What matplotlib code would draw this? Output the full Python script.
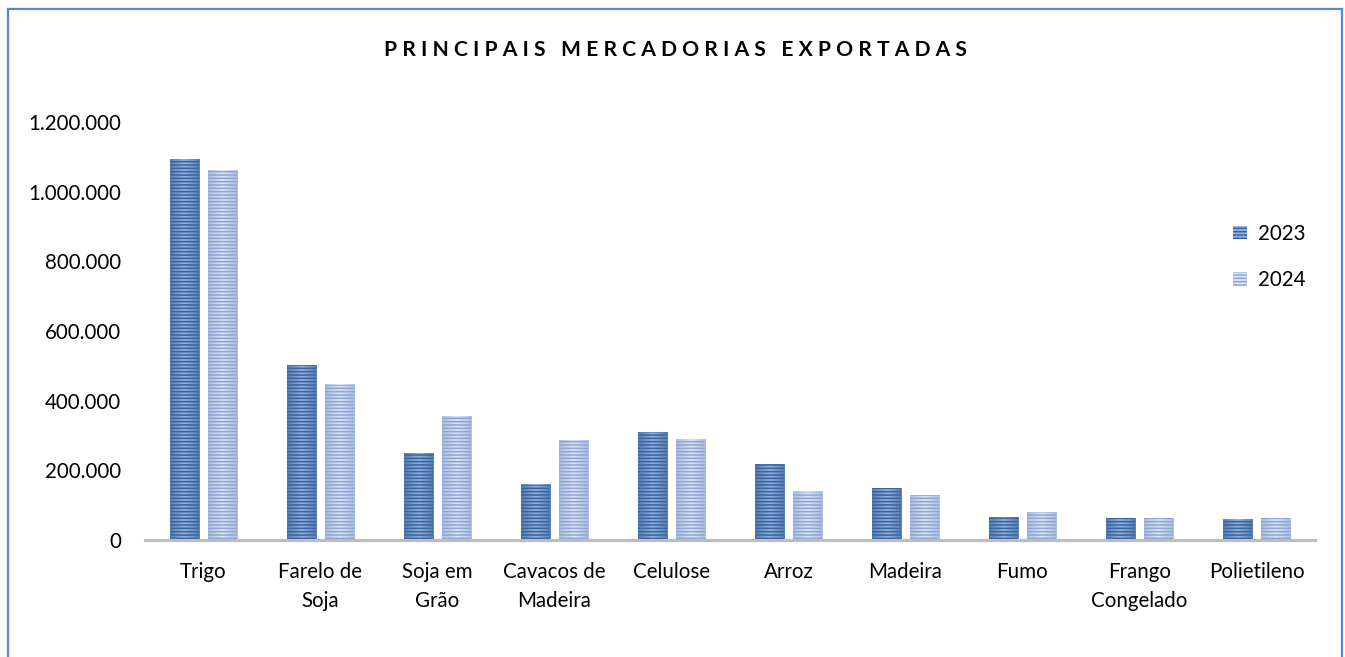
import matplotlib
matplotlib.use("Agg")
import matplotlib.pyplot as plt
import numpy as np
from matplotlib.patches import Patch
from matplotlib.ticker import FuncFormatter, MultipleLocator
from matplotlib.colors import LinearSegmentedColormap

categories = ["Trigo", "Farelo de\nSoja", "Soja em\nGrão", "Cavacos de\nMadeira", "Celulose",
              "Arroz", "Madeira", "Fumo", "Frango\nCongelado", "Polietileno"]
values_2023 = [1093000, 502000, 247000, 158000, 309000, 217000, 148000, 65000, 62000, 58000]
values_2024 = [1060000, 445000, 354000, 287000, 289000, 139000, 128000, 80000, 62000, 62000]
series_labels = ["2023", "2024"]
title = "PRINCIPAIS MERCADORIAS EXPORTADAS"

plt.rcParams['font.family'] = ['Lato', 'DejaVu Sans']
plt.rcParams['hatch.linewidth'] = 1.1

W, H = 1345, 657
fig = plt.figure(figsize=(W / 100, H / 100), dpi=100)
ax = fig.add_axes([145 / W, 1 - 540 / H, 1170 / W, 418 / H])

styles = [
    dict(edge='#5A80B8', center='#93B4E2', hatch='#3B639C'),
    dict(edge='#AEC0E1', center='#DCE6F6', hatch='#8EA5D3'),
]

x = np.arange(len(categories))
bw = 0.255
offs = [-0.162, 0.162]
for si, vals in enumerate([values_2023, values_2024]):
    st = styles[si]
    cmap = LinearSegmentedColormap.from_list('g', [st['edge'], st['center'], st['edge']])
    grad = np.linspace(0, 1, 64)[None, :]
    for xi, v in zip(x, vals):
        x0 = xi + offs[si] - bw / 2
        ax.imshow(grad, cmap=cmap, extent=[x0, x0 + bw, 0, v], aspect='auto',
                  interpolation='bilinear', zorder=1)
    ax.bar(x + offs[si], vals, width=bw, facecolor='none', edgecolor=st['hatch'],
           hatch='-----', linewidth=0, zorder=2)

ax.set_xlim(-0.5, len(categories) - 0.5)
ax.set_ylim(0, 1200000)
ax.yaxis.set_major_locator(MultipleLocator(200000))
ax.yaxis.set_major_formatter(FuncFormatter(lambda v, p: f"{int(v):,}".replace(',', '.')))
ax.set_xticks(x)
ax.set_xticklabels(categories, linespacing=1.55)
ax.tick_params(axis='both', length=0, labelsize=14.8, colors='black')
ax.tick_params(axis='y', pad=17)
ax.tick_params(axis='x', pad=16)
for s in ['top', 'right', 'left']:
    ax.spines[s].set_visible(False)
ax.spines['bottom'].set_color('#BDBDBD')
ax.spines['bottom'].set_linewidth(2.3)
ax.spines['bottom'].set_zorder(3)

handles = [Patch(facecolor=styles[i]['center'], edgecolor=styles[i]['hatch'], hatch='-----',
                 linewidth=0) for i in range(2)]
ax.legend(handles, series_labels, loc='center left', bbox_to_anchor=((1233 - 145) / 1170, (540 - 257) / 418),
          frameon=False, fontsize=14.8, handlelength=0.7, handleheight=0.62, handletextpad=0.5,
          labelspacing=1.3, borderpad=0, borderaxespad=0)

# title with letter spacing
spaced = "   ".join(" ".join(w) for w in title.split(" "))
fig.text(675.5 / W, 1 - 50 / H, spaced, ha='center', va='center', fontsize=15.2,
         fontweight='bold', color='black')

# outer border (no bottom edge)
bc = '#5B87C8'
fig.add_artist(plt.Line2D([8 / W, 8 / W], [0, 1 - 9 / H], transform=fig.transFigure, color=bc, lw=1.6))
fig.add_artist(plt.Line2D([1342 / W, 1342 / W], [0, 1 - 9 / H], transform=fig.transFigure, color=bc, lw=1.6))
fig.add_artist(plt.Line2D([8 / W, 1342 / W], [1 - 9 / H, 1 - 9 / H], transform=fig.transFigure, color=bc, lw=1.6))

fig.savefig("out.png", dpi=100)
